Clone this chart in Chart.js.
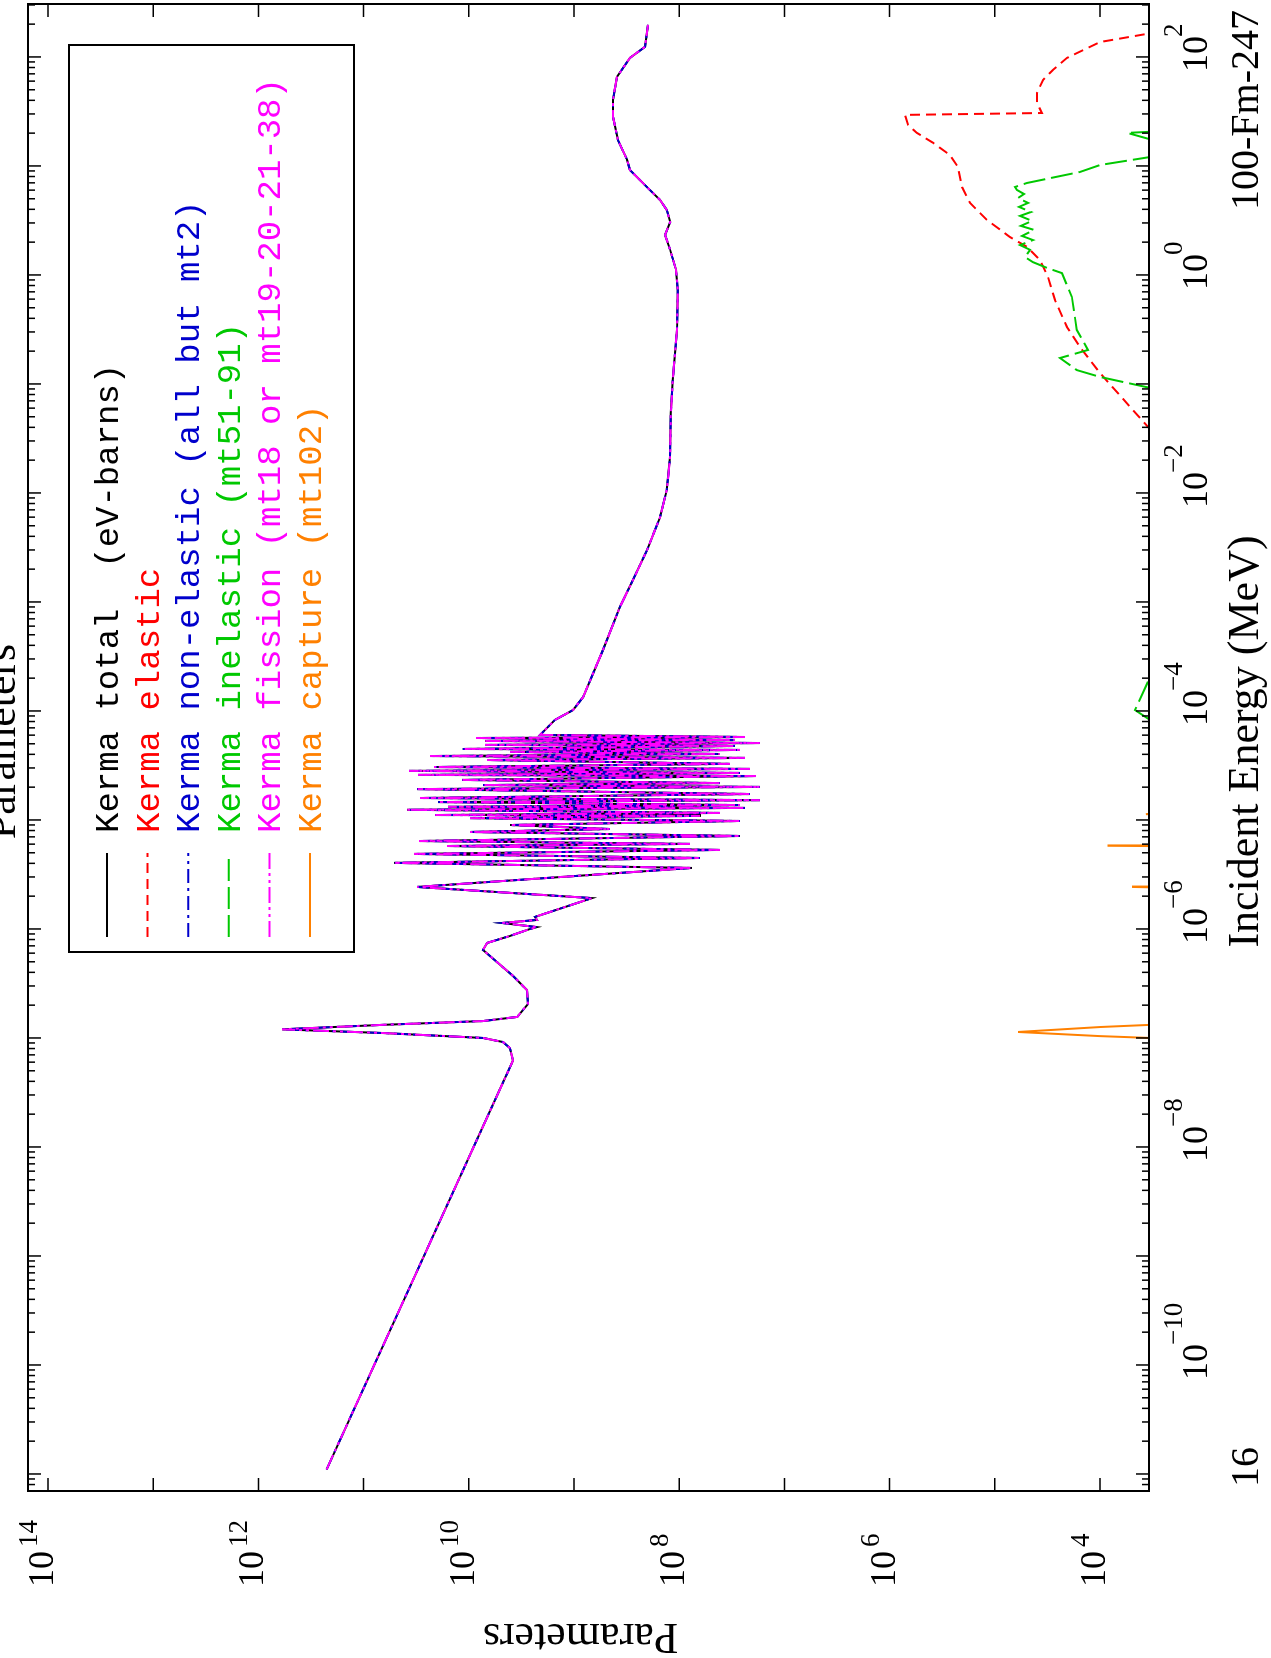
<!DOCTYPE html>
<html><head><meta charset="utf-8">
<script src="https://cdn.jsdelivr.net/npm/chart.js@4.4.1/dist/chart.umd.min.js"></script>
<style>
html,body{margin:0;padding:0;background:#fff;width:1271px;height:1658px;overflow:hidden}
#wrap{position:absolute;left:0;top:0;width:1658px;height:1271px;transform-origin:0 0;transform:translate(0,1658px) rotate(-90deg);background:#fff}
canvas{display:block}
</style></head><body>
<div id="wrap"><canvas id="c" width="1658" height="1271"></canvas></div>
<script>
// ---- axis ranges & tick labels ----
const energyRange = [6.98e-12, 306];        // MeV
const valueRange = [3420, 1.549e14];         // eV-barns
const energyLabelExponents = [-10, -8, -6, -4, -2, 0, 2];
const valueLabelExponents = [4, 6, 8, 10, 12, 14];
const legendLabels = [
  'Kerma total  (eV-barns)',
  'Kerma elastic',
  'Kerma non-elastic (all but mt2)',
  'Kerma inelastic (mt51-91)',
  'Kerma fission (mt18 or mt19-20-21-38)',
  'Kerma capture (mt102)'
];

// ---- total kerma (also non-elastic and fission, which coincide) ----
const lowE = [1.1e-11, 7.28e-10, 6.2e-8, 8.09e-8, 9.18e-8, 1.0e-7, 1.11e-7, 1.2e-7, 1.32e-7, 1.43e-7,
  1.56e-7, 2.05e-7, 2.75e-7, 3.71e-7, 4.98e-7, 6.41e-7, 7.45e-7, 8.63e-7, 1.0e-6, 1.04e-6,
  1.135e-6, 1.21e-6, 1.29e-6, 1.92e-6, 2.43e-6, 3.63e-6];
const lowV = [2.25e11, 3.1e10, 3.8e9, 4.06e9, 4.73e9, 7.3e9, 6.5e10, 5.97e11, 6.5e10, 7.3e9,
  3.47e9, 2.74e9, 2.8e9, 3.8e9, 5.4e9, 7.33e9, 6.7e9, 4.06e9, 2.62e9, 2.25e9,
  4.83e9, 2.25e9, 2.35e9, 6.75e8, 3.1e10, 7.55e7];
const forestE = [4.04e-6, 4.48e-6, 4.88e-6, 5.31e-6, 5.77e-6, 6.03e-6, 6.41e-6, 7.13e-6, 7.76e-6, 8.26e-6,
  8.99e-6, 9.79e-6, 1.04e-5, 1.09e-5, 1.11e-5, 1.16e-5, 1.24e-5, 1.29e-5, 1.32e-5, 1.37e-5,
  1.46e-5, 1.52e-5, 1.59e-5, 1.73e-5, 1.92e-5, 2.01e-5, 2.09e-5, 2.18e-5, 2.33e-5, 2.53e-5,
  2.59e-5, 2.70e-5, 2.82e-5, 2.94e-5, 3.06e-5, 3.27e-5, 3.55e-5, 3.71e-5, 3.86e-5, 4.03e-5,
  4.21e-5, 4.39e-5, 4.48e-5, 4.77e-5, 4.88e-5, 5.08e-5, 5.31e-5, 5.42e-5, 5.65e-5, 5.77e-5, 6.03e-5];
const forestV = [5.14e10, 6.34e7, 3.32e10, 4.09e7, 1.61e10, 7.89e7, 2.97e10, 2.64e7, 9.75e9, 4.55e8,
  4.06e9, 2.64e7, 9.75e9, 6.34e7, 2.09e10, 4.09e7, 3.86e10, 2.37e7, 1.58e10, 2.64e7,
  1.96e10, 1.71e7, 2.91e10, 2.12e7, 3.1e10, 1.71e7, 7.33e9, 4.09e7, 1.16e10, 1.86e7,
  3.04e10, 2.64e7, 3.7e10, 2.12e7, 2.14e10, 3.29e7, 6.71e9, 2.37e7, 2.34e10, 4.09e7,
  4.06e9, 2.64e7, 1.14e10, 2.95e7, 7.02e9, 1.71e7, 7.02e9, 2.95e7, 8.55e9, 2.37e7, 2.10e9];
const highE = [8.26e-5, 1.02e-4, 1.34e-4, 3.63e-4, 9.0e-4, 1.59e-3, 3.0e-3, 6.0e-3, 1.07e-2, 2.14e-2,
  5.42e-2, 0.109, 0.313, 0.728, 1.11, 1.70, 2.33, 3.06, 3.94, 4.88,
  6.02, 9.19, 11.4, 17.3, 28.2, 40.4, 65.6, 98, 124, 197];
const highV = [1.52e9, 1.02e9, 8.2e8, 5.3e8, 3.66e8, 2.75e8, 2.02e8, 1.52e8, 1.31e8, 1.22e8,
  1.20e8, 1.15e8, 1.05e8, 1.03e8, 1.07e8, 1.22e8, 1.36e8, 1.22e8, 1.31e8, 1.52e8,
  1.90e8, 2.94e8, 3.13e8, 3.82e8, 4.26e8, 4.26e8, 3.90e8, 2.94e8, 2.11e8, 1.98e8];

// ---- elastic ----
const elasticE = [0.0379, 0.126, 0.218, 0.333, 0.590, 0.959, 1.37, 1.81, 2.23, 3.20, 4.58, 6.41, 9.79,
  12.6, 16.3, 20.1, 23.8, 29.4, 30.6, 37.8, 46.8, 61.5, 76.0, 98.0, 137, 165];
const elasticV = [3.3e3, 1.0e4, 1.55e4, 2.06e4, 2.68e4, 3.12e4, 3.72e4, 4.94e4, 7.18e4, 1.19e5, 1.72e5, 2.05e5, 2.24e5,
  2.67e5, 3.86e5, 5.50e5, 6.68e5, 7.14e5, 3.56e4, 3.97e4, 3.97e4, 3.48e4, 2.80e4, 2.06e4, 1.0e4, 3.3e3];

// ---- inelastic ----
const inelasticE = [8.2e-5, 1.02e-4, 2.1e-4, 5e-3,
  0.0918, 0.116, 0.134, 0.173, 0.205, 0.313, 0.628, 1.04, 1.16, 1.31, 1.46, 1.70, 1.88, 2.09, 2.28,
  2.59, 2.82, 3.13, 3.48, 3.78, 4.21, 4.58, 5.08, 5.53, 6.02, 6.41, 6.98, 8.81, 10.2, 12.1, 15,
  17.5, 20.1, 20.6];
const inelasticV = [3.3e3, 4.65e3, 3.3e3, null,
  3.3e3, 1.0e4, 1.66e4, 2.40e4, 1.30e4, 1.66e4, 1.85e4, 2.30e4, 3.19e4, 4.33e4, 5.16e4, 4.62e4, 5.75e4, 4.33e4, 5.51e4,
  4.24e4, 5.64e4, 4.43e4, 5.75e4, 4.53e4, 5.89e4, 4.83e4, 6.02e4, 5.27e4, 6.15e4, 6.43e4, 4.94e4, 1.55e4, 1.0e4, 3.3e3, null,
  3.3e3, 5.5e3, 3.3e3];

// ---- capture ----
const captureE = [1.0e-7, 1.04e-7, 1.135e-7, 1.26e-7, 1.32e-7, 5e-7,
  2.41e-6, 2.43e-6, 2.45e-6, 4e-6,
  5.76e-6, 5.8e-6, 5.84e-6, 9e-6,
  1.12e-5, 1.13e-5, 1.14e-5];
const captureV = [3.3e3, 1.0e4, 6.0e4, 1.0e4, 3.3e3, null,
  3.3e3, 4.97e3, 3.3e3, null,
  3.3e3, 8.5e3, 3.3e3, null,
  3.3e3, 3.66e3, 3.3e3];

const totalE = lowE.concat(forestE, highE);
const totalV = lowV.concat(forestV, highV);

function pts(E, V) { return E.map((e, i) => ({ x: e, y: V[i] })); }

const SERIF = '"Liberation Serif", "Times New Roman", serif';
const MONO = '"Liberation Mono", "DejaVu Sans Mono", monospace';

function sup(k) { return k < 0 ? '\u2212' + Math.abs(k) : String(k); }

const decor = {
  id: 'decor',
  afterDatasetsDraw(chart) {
    const { ctx, chartArea: a, scales: { x, y } } = chart;
    ctx.save();
    // frame
    ctx.strokeStyle = '#000';
    ctx.lineWidth = 2;
    ctx.setLineDash([]);
    ctx.strokeRect(a.left, a.top, a.right - a.left, a.bottom - a.top);
    // ticks
    ctx.lineWidth = 1.5;
    ctx.beginPath();
    for (let k = -12; k <= 2; k++) {
      for (let m = 1; m <= 9; m++) {
        const e = m * Math.pow(10, k);
        if (e < x.min || e > x.max) continue;
        const px = x.getPixelForValue(e);
        const len = m === 1 ? 13 : 7;
        ctx.moveTo(px, a.bottom); ctx.lineTo(px, a.bottom - len);
        ctx.moveTo(px, a.top); ctx.lineTo(px, a.top + len);
      }
    }
    for (let k = 3; k <= 14; k++) {
      const v = Math.pow(10, k);
      if (v < y.min || v > y.max) continue;
      const py = y.getPixelForValue(v);
      ctx.moveTo(a.left, py); ctx.lineTo(a.left + 13, py);
      ctx.moveTo(a.right, py); ctx.lineTo(a.right - 13, py);
    }
    ctx.stroke();

    // tick labels
    ctx.fillStyle = '#000';
    ctx.textBaseline = 'alphabetic';
    ctx.textAlign = 'left';
    const bigF = '36px ' + SERIF, supF = '27px ' + SERIF;
    for (const k of energyLabelExponents) {
      const px = x.getPixelForValue(Math.pow(10, k));
      ctx.font = bigF;
      const w = ctx.measureText('10').width;
      const left = px - w / 2 + 3;
      ctx.fillText('10', left, a.bottom + 58);
      ctx.font = supF;
      ctx.fillText(sup(k), left + w - 1, a.bottom + 33);
    }
    for (const k of valueLabelExponents) {
      const py = y.getPixelForValue(Math.pow(10, k));
      ctx.font = bigF;
      const w = ctx.measureText('10').width;
      const left = 71;
      ctx.fillText('10', left, py + 5);
      ctx.font = supF;
      ctx.fillText(sup(k), left + w + 4, py - 11);
    }

    // axis titles and annotations
    ctx.font = '44px ' + SERIF;
    ctx.textAlign = 'center';
    ctx.fillText('Incident Energy (MeV)', (a.left + a.right) / 2 + 6, 1258);
    ctx.fillText('Parameters', (a.left + a.right) / 2 + 6, 15);
    ctx.font = '40px ' + SERIF;
    ctx.textAlign = 'right';
    ctx.fillText('100-Fm-247', 1648, 1258);
    ctx.textAlign = 'left';
    ctx.fillText('16', 171, 1258);
    ctx.save();
    ctx.translate(34, (a.top + a.bottom) / 2 - 8);
    ctx.rotate(-Math.PI / 2);
    ctx.font = '44px ' + SERIF;
    ctx.textAlign = 'center';
    ctx.fillText('Parameters', 0, 0);
    ctx.restore();

    // legend
    ctx.lineWidth = 2;
    ctx.strokeStyle = '#000';
    ctx.setLineDash([]);
    ctx.strokeRect(706, 69, 907, 285);
    ctx.font = '34px ' + MONO;
    ctx.textAlign = 'left';
    chart.data.datasets.forEach((ds, i) => {
      const ry = 107 + i * 40.6;
      ctx.strokeStyle = ds.borderColor;
      ctx.setLineDash(ds.borderDash || []);
      ctx.beginPath();
      ctx.moveTo(721, ry); ctx.lineTo(805, ry);
      ctx.stroke();
      ctx.setLineDash([]);
      ctx.fillStyle = ds.borderColor;
      ctx.fillText(ds.label, 825, ry + 11);
    });
    ctx.restore();
  }
};

const common = { pointRadius: 0, borderWidth: 2, tension: 0, fill: false, spanGaps: false, clip: 0 };

new Chart(document.getElementById('c'), {
  type: 'line',
  data: {
    datasets: [
      Object.assign({ label: legendLabels[0], data: pts(totalE, totalV), borderColor: '#000000', borderDash: [], order: 5 }, common),
      Object.assign({ label: legendLabels[1], data: pts(elasticE, elasticV), borderColor: '#ff0000', borderDash: [10, 6], order: 4 }, common),
      Object.assign({ label: legendLabels[2], data: pts(totalE, totalV), borderColor: '#0000cc', borderDash: [14, 5, 3, 5], order: 3 }, common),
      Object.assign({ label: legendLabels[3], data: pts(inelasticE, inelasticV), borderColor: '#00c800', borderDash: [22, 6], order: 2 }, common),
      Object.assign({ label: legendLabels[4], data: pts(totalE, totalV), borderColor: '#ff00ff', borderDash: [16, 4, 3, 4, 3, 4], order: 1 }, common),
      Object.assign({ label: legendLabels[5], data: pts(captureE, captureV), borderColor: '#ff8000', borderDash: [], order: 0 }, common)
    ]
  },
  options: {
    responsive: false,
    animation: false,
    devicePixelRatio: 1,
    layout: { padding: { left: 167, right: 4, top: 28, bottom: 122 } },
    plugins: { legend: { display: false }, tooltip: { enabled: false }, title: { display: false } },
    scales: {
      x: { type: 'logarithmic', display: false, min: energyRange[0], max: energyRange[1] },
      y: { type: 'logarithmic', display: false, min: valueRange[0], max: valueRange[1] }
    }
  },
  plugins: [decor]
});
</script>
</body></html>
